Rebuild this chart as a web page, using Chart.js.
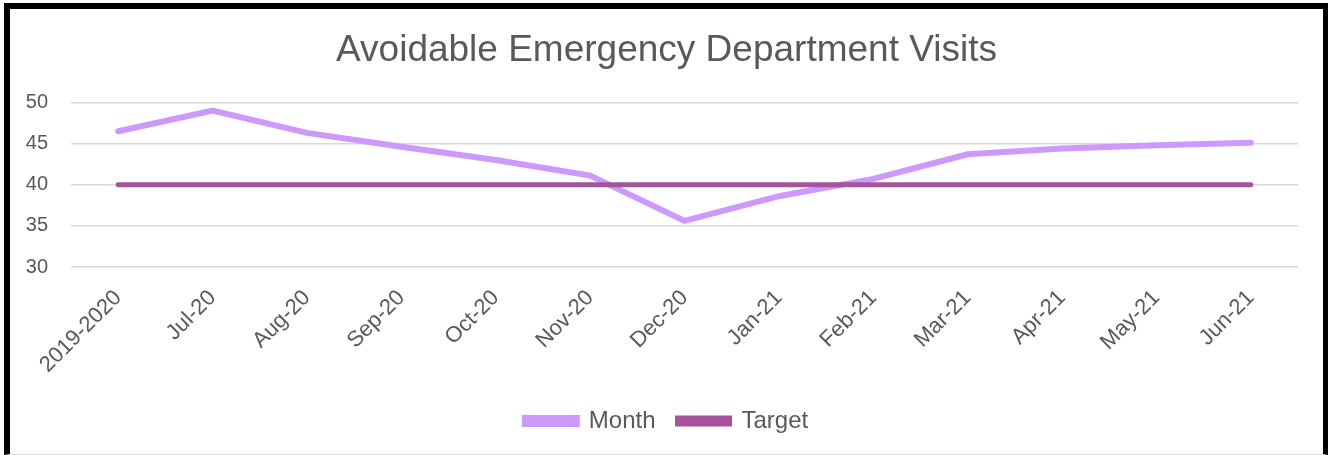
<!DOCTYPE html>
<html>
<head>
<meta charset="utf-8">
<script src="https://cdn.jsdelivr.net/npm/chart.js@4/dist/chart.umd.min.js"></script>
<style>
  html, body { margin: 0; padding: 0; background: #fff; }
  #frame {
    position: absolute; left: 4px; top: 3px;
    width: 1313px; height: 445px;
    border-top: 6px solid #000; border-left: 6px solid #000; border-right: 5px solid #000;
    border-bottom: 1px solid #e0e0e0;
    background: #fff;
  }
  canvas { display: block; }
</style>
</head>
<body>
<div id="frame"><canvas id="edChart" width="1313" height="445"></canvas></div>
<script>
// Chart data
const categories = ['2019-2020', 'Jul-20', 'Aug-20', 'Sep-20', 'Oct-20', 'Nov-20', 'Dec-20',
  'Jan-21', 'Feb-21', 'Mar-21', 'Apr-21', 'May-21', 'Jun-21'];
const monthValues = [46.5, 49.0, 46.3, 44.6, 43.0, 41.1, 35.6, 38.6, 40.7, 43.7, 44.4, 44.8, 45.1];
const targetValues = [40, 40, 40, 40, 40, 40, 40, 40, 40, 40, 40, 40, 40];
const yTicks = [30, 35, 40, 45, 50];

const textColor = '#595959';
const gridColor = '#d9d9d9';
const fontFamily = '"Liberation Sans", Arial, sans-serif';

const ctx = document.getElementById('edChart').getContext('2d');
new Chart(ctx, {
  type: 'line',
  data: {
    labels: categories,
    datasets: [
      {
        label: 'Month',
        data: monthValues,
        borderColor: '#cc99ff',
        backgroundColor: '#cc99ff',
        borderWidth: 6,
        borderCapStyle: 'round',
        pointRadius: 0,
        tension: 0,
        order: 2
      },
      {
        label: 'Target',
        data: targetValues,
        borderColor: '#a6539b',
        backgroundColor: '#a6539b',
        borderWidth: 5,
        borderCapStyle: 'round',
        pointRadius: 0,
        tension: 0,
        order: 1
      }
    ]
  },
  options: {
    responsive: false,
    animation: false,
    layout: { padding: { left: 0, right: 0, top: 0, bottom: 11 } },
    plugins: {
      title: {
        display: true,
        text: 'Avoidable Emergency Department Visits',
        color: textColor,
        font: { family: fontFamily, size: 37, weight: 'normal' },
        padding: { top: 20, bottom: 29 }
      },
      legend: {
        position: 'bottom',
        labels: {
          color: textColor,
          font: { family: fontFamily, size: 24 },
          boxWidth: 52,
          boxHeight: 6,
          padding: 22,
          sort: (a, b) => a.datasetIndex - b.datasetIndex
        }
      },
      tooltip: { enabled: false }
    },
    scales: {
      x: {
        offset: true,
        grid: { display: false, drawTicks: false },
        border: { display: false },
        ticks: {
          color: textColor,
          font: { family: fontFamily, size: 22 },
          minRotation: 45,
          maxRotation: 45,
          autoSkip: false,
          padding: 18
        },
        afterFit: (scale) => { scale.height = 120; }
      },
      y: {
        min: 30,
        max: 50,
        afterBuildTicks: (scale) => { scale.ticks = yTicks.map(v => ({ value: v })); },
        grid: { color: gridColor, lineWidth: 1.5, drawTicks: false },
        border: { display: false },
        ticks: {
          color: textColor,
          font: { family: fontFamily, size: 20 },
          padding: 23
        },
        afterFit: (scale) => { scale.width = 61; }
      },
      // empty axis on the right, only to keep the plot clear of the frame
      yRight: {
        position: 'right',
        display: true,
        grid: { display: false, drawTicks: false },
        border: { display: false },
        ticks: { display: false },
        afterFit: (scale) => { scale.width = 25; }
      }
    }
  }
});
</script>
</body>
</html>
